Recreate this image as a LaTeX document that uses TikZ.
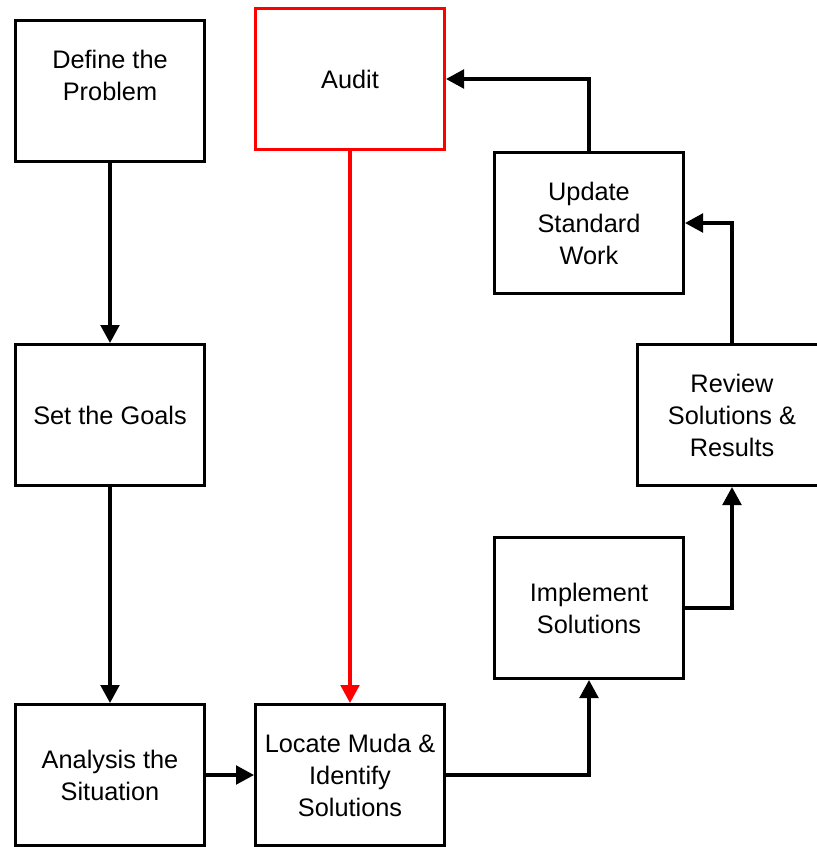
\documentclass[tikz,border=0pt]{standalone}
\usepackage{fontspec}
\setmainfont{Liberation Sans}
\usetikzlibrary{arrows.meta, positioning}
\definecolor{auditred}{RGB}{255, 0, 0}

\begin{document}
\begin{tikzpicture}[
        x=0.75pt, y=-0.75pt,
        phase/.style={
            draw,
            line width=2.4pt,
            minimum width=141.6pt,
            minimum height=105.6pt,
            inner sep=1pt,
            align=center,
            font=\fontsize{19}{24}\selectfont
        },
        arr/.style={-{Triangle[length=13.5pt, width=14pt]}, line width=2.4pt}
    ]
        \useasboundingbox (0,0) rectangle (817,847);
        % Left column
        \node[phase] (define) at (110, 91) {Define the\\Problem\\\mbox{}};
        \node[phase, below=135pt of define] (goals) {Set the Goals};
        \node[phase, below=162pt of goals] (analysis) {Analysis the\\Situation};
        % Bottom row and audit
        \node[phase, right=36pt of analysis] (locate) {Locate Muda \&\\Identify\\Solutions};
        \node[phase, draw=auditred, above=414pt of locate] (audit) {Audit};
        % Right side, stepping up
        \node[phase, above right=17.25pt and 35.25pt of locate] (implement) {Implement\\Solutions};
        \node[phase, above right=36.75pt and -36.75pt of implement] (review) {Review\\Solutions \&\\Results};
        \node[phase, above left=36pt and -36.75pt of review] (update) {Update\\Standard\\Work};
        % Arrows
        \draw[arr] (define) -- (goals);
        \draw[arr] (goals) -- (analysis);
        \draw[arr] (analysis) -- (locate);
        \draw[arr, auditred] (audit) -- (locate);
        \draw[arr] (locate.east) -| (implement.south);
        \draw[arr] (implement.east) -| (review.south);
        \draw[arr] (review.north) |- (update.east);
        \draw[arr] (update.north) |- (audit.east);
    \end{tikzpicture}
\end{document}
